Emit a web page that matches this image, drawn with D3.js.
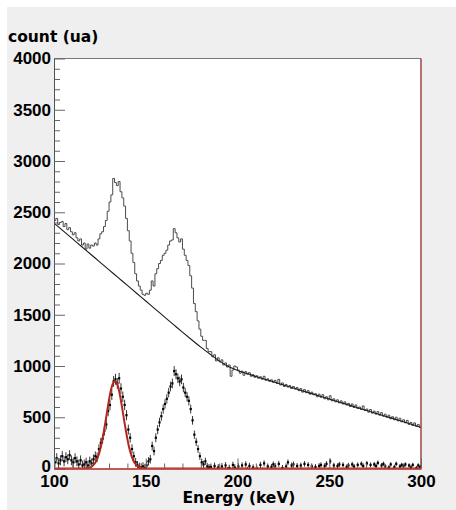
<!DOCTYPE html>
<html>
<head>
<meta charset="utf-8">
<script src="https://cdn.jsdelivr.net/npm/d3@7"></script>
<style>
  html, body { margin: 0; padding: 0; background: #ffffff; }
  svg { display: block; }
</style>
</head>
<body>
<script>
// Spectrum: 1 keV bins from 100 to 300 keV
const binLow = d3.range(100, 300);

// Measured counts per bin
const counts = [
  2420, 2440, 2380, 2400, 2410, 2360, 2390, 2330, 2350, 2310,
  2280, 2300, 2250, 2220, 2240, 2180, 2200, 2140, 2190, 2150,
  2180, 2170, 2200, 2180, 2240, 2290, 2310, 2360, 2420, 2510,
  2600, 2670, 2830, 2790, 2760, 2800, 2700, 2640, 2560, 2440,
  2320, 2220, 2100, 2010, 1900, 1830, 1780, 1740, 1700, 1690,
  1710, 1700, 1740, 1830, 1780, 1900, 1950, 2000, 2030, 2080,
  2100, 2130, 2180, 2220, 2230, 2340, 2300, 2250, 2210, 2240,
  2140, 2080, 2030, 1980, 1880, 1760, 1610, 1530, 1440, 1360,
  1290, 1250, 1250, 1170, 1140, 1140, 1090, 1110, 1050, 1080,
  1040, 1060, 1010, 1030, 990, 1010, 900, 960, 1000, 990,
  960, 930, 950, 910, 945, 920, 935, 900, 915, 890,
  905, 880, 895, 870, 900, 860, 875, 850, 865, 840,
  860, 830, 870, 815, 835, 800, 820, 795, 810, 780,
  800, 775, 790, 760, 780, 745, 770, 740, 760, 725,
  745, 720, 730, 700, 725, 695, 720, 680, 700, 670,
  710, 660, 680, 650, 670, 640, 660, 630, 650, 620,
  635, 605, 630, 595, 620, 585, 600, 575, 610, 565,
  580, 550, 575, 540, 560, 530, 555, 520, 545, 510,
  530, 500, 520, 485, 505, 475, 500, 465, 490, 455,
  475, 445, 470, 430, 450, 420, 445, 410, 430, 400
];

// Counts after background subtraction
const residual = [
  60, 100, 50, 80, 120, 70, 110, 90, 130, 80,
  60, 100, 70, 40, 80, 30, 40, 60, 30, 70,
  50, 90, 120, 110, 190, 250, 290, 370, 430, 560,
  620, 720, 850, 870, 830, 880, 780, 700, 620, 520,
  380, 300, 190, 120, 60, 30, 15, 10, 20, 5,
  30, 70, 90, 220, 170, 300, 380, 450, 510, 580,
  630, 680, 740, 800, 830, 950, 920, 880, 850, 870,
  790, 740, 700, 660, 580, 470, 330, 260, 190, 120,
  60, 40, 70, 20, 10, 15, -30, 25, -50, 10,
  -40, 20, -60, 30, -20, 5, -90, 35, 10, -25,
  20, -45, 30, -35, 40, -15, 25, -55, 10, -30,
  0, -40, 35, -20, 50, -35, 20, -50, 15, 40,
  25, -45, 45, -30, 5, -50, 20, 60, -25, 30,
  40, -35, 25, -45, 30, -20, 45, -50, 35, -30,
  20, -40, 15, -35, 25, 35, -45, 25, 45, -20,
  70, -30, 30, -40, 25, 40, -45, 35, -25, 15,
  30, -50, 40, 20, -30, 35, -40, 45, 25, -35,
  50, -25, 35, -45, 40, 25, 55, -30, 30, 45,
  20, -35, 10, 40, -20, 15, 45, -30, 20, 35,
  25, 40, -40, 30, 10, 35, -25, 5, 30, 15
];

// Background fit
const bgEnergy = [100, 105, 110, 115, 120, 125, 130, 135, 140, 145, 150, 155, 160, 165, 170, 175, 180, 185, 190, 195, 200, 205, 210, 220, 230, 240, 250, 260, 270, 280, 290, 300];
const bgCounts = [2395, 2318, 2242, 2166, 2090, 2014, 1938, 1862, 1786, 1710, 1634, 1558, 1482, 1406, 1330, 1256, 1184, 1116, 1050, 995, 957, 926, 898, 843, 788, 733, 678, 623, 568, 513, 458, 402];

// Gaussian fit of the first peak
const fitEnergy = [100, 116, 117, 118, 119, 120, 121, 122, 123, 124, 125, 126, 127, 128, 129, 130, 131, 132, 133, 134, 135, 136, 137, 138, 139, 140, 141, 142, 143, 144, 145, 146, 147, 148, 149, 150, 151, 300];
const fitCounts = [0, 0, 2, 4, 7, 14, 25, 44, 73, 116, 174, 251, 345, 451, 563, 671, 763, 826, 854, 842, 792, 710, 608, 496, 386, 287, 203, 137, 88, 54, 32, 18, 10, 5, 2, 1, 0, 0];

const yMajor = [0, 500, 1000, 1500, 2000, 2500, 3000, 3500, 4000];
const xMajor = [100, 150, 200, 250, 300];

const W = 456, H = 510;
const L = 54, R = 421, T = 58.5, B = 468.5;

const svg = d3.select("body").append("svg")
  .attr("width", W).attr("height", H);

svg.append("rect").attr("x", 7).attr("y", 7)
  .attr("width", W - 7).attr("height", H - 7)
  .attr("fill", "#efefef");

const x = d3.scaleLinear().domain([100, 300]).range([L, R]);
const y = d3.scaleLinear().domain([0, 4000]).range([B, T]);

svg.append("rect").attr("x", L).attr("y", T)
  .attr("width", R - L).attr("height", B - T)
  .attr("fill", "#ffffff");

svg.append("defs").append("clipPath").attr("id", "plot")
  .append("rect").attr("x", L).attr("y", T - 1)
  .attr("width", R - L).attr("height", B - T + 1);

const g = svg.append("g").attr("clip-path", "url(#plot)");

// Histogram drawn as steps
const stepPts = binLow.map((e, i) => [e, counts[i]]);
stepPts.push([300, counts[counts.length - 1]]);
g.append("path")
  .attr("d", d3.line().x(d => x(d[0])).y(d => y(d[1])).curve(d3.curveStepAfter)(stepPts))
  .attr("fill", "none").attr("stroke", "#4a4a4a").attr("stroke-width", 1);

// Background curve
g.append("path")
  .attr("d", d3.line().x((d, i) => x(bgEnergy[i])).y(d => y(d)).curve(d3.curveMonotoneX)(bgCounts))
  .attr("fill", "none").attr("stroke", "#1a1a1a").attr("stroke-width", 1.1);

// Subtracted spectrum: points with error bars (those below zero fall outside the frame)
const res = g.append("g");
binLow.forEach((e, i) => {
  const cx = x(e + 0.5), v = residual[i], err = Math.sqrt(counts[i]);
  res.append("line")
    .attr("x1", cx).attr("x2", cx)
    .attr("y1", y(v - err)).attr("y2", y(v + err))
    .attr("stroke", "#000").attr("stroke-width", 0.8);
  res.append("rect")
    .attr("x", cx - 1.1).attr("y", y(v) - 1.1)
    .attr("width", 2.2).attr("height", 2.2)
    .attr("fill", "#000");
});

// Gaussian fit curve
g.append("path")
  .attr("d", d3.line().x((d, i) => x(fitEnergy[i])).y(d => y(d)).curve(d3.curveMonotoneX)(fitCounts))
  .attr("fill", "none").attr("stroke", "#b3261e").attr("stroke-width", 2);

// Frame
svg.append("line").attr("x1", L).attr("x2", R).attr("y1", T).attr("y2", T)
  .attr("stroke", "#777").attr("stroke-width", 1);
svg.append("line").attr("x1", R).attr("x2", R).attr("y1", T).attr("y2", B)
  .attr("stroke", "#9a3a3a").attr("stroke-width", 1.4);

const labelFont = "'Liberation Sans', Arial, sans-serif";

// Y axis
const yMinor = d3.range(0, 4001, 100).filter(v => v % 500 !== 0);
const yMinorAxis = svg.append("g").attr("transform", `translate(${L},0)`)
  .call(d3.axisLeft(y).tickValues(yMinor).tickSizeInner(-6).tickSizeOuter(0).tickFormat(""));
yMinorAxis.select(".domain").remove();
yMinorAxis.selectAll("line").attr("stroke", "#666");

const yAxis = svg.append("g").attr("transform", `translate(${L},0)`)
  .call(d3.axisLeft(y).tickValues(yMajor).tickSizeInner(-11).tickSizeOuter(0).tickPadding(3).tickFormat(d3.format("d")));
yAxis.select(".domain").attr("stroke", "#555");
yAxis.selectAll("line").attr("stroke", "#666");
yAxis.selectAll("text")
  .attr("font-family", labelFont).attr("font-weight", "bold")
  .attr("font-size", 17).attr("fill", "#000");
// the zero label sits just above the first x label
yAxis.selectAll("text").filter(d => d === 0).attr("dy", "0.2em");

// X axis
const xMinor = d3.range(100, 301, 10).filter(v => v % 50 !== 0);
const xMinorAxis = svg.append("g").attr("transform", `translate(0,${B})`)
  .call(d3.axisBottom(x).tickValues(xMinor).tickSizeInner(-5).tickSizeOuter(0).tickFormat(""));
xMinorAxis.select(".domain").remove();
xMinorAxis.selectAll("line").attr("stroke", "#666");

const xAxis = svg.append("g").attr("transform", `translate(0,${B})`)
  .call(d3.axisBottom(x).tickValues(xMajor).tickSizeInner(-10).tickSizeOuter(0).tickPadding(6).tickFormat(d3.format("d")));
xAxis.select(".domain").attr("stroke", "#b3261e").attr("stroke-width", 1.5);
xAxis.selectAll("line").attr("stroke", "#666");
xAxis.selectAll("text")
  .attr("font-family", labelFont).attr("font-weight", "bold")
  .attr("font-size", 17).attr("fill", "#000");

// Axis titles
svg.append("text")
  .attr("x", 8).attr("y", 42)
  .attr("font-family", "'DejaVu Sans', sans-serif").attr("font-weight", "bold")
  .attr("font-size", 15.5).attr("fill", "#000")
  .text("count (ua)");

svg.append("text")
  .attr("x", 239).attr("y", 503).attr("text-anchor", "middle")
  .attr("font-family", "'DejaVu Sans', sans-serif").attr("font-weight", "bold")
  .attr("font-size", 15.5).attr("fill", "#000")
  .text("Energy (keV)");
</script>
</body>
</html>
